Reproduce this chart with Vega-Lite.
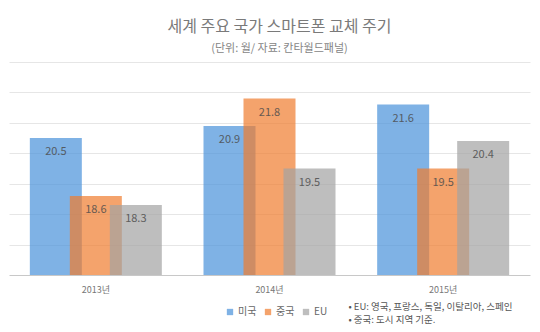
{
  "$schema": "https://vega.github.io/schema/vega-lite/v6.json",
  "width": 521,
  "height": 213,
  "autosize": {"type": "none"},
  "padding": {"left": 9, "top": 62, "right": 10, "bottom": 57},
  "background": "white",
  "config": {"font": "Noto Sans CJK KR", "view": {"stroke": null}},
  "title": {
    "text": "세계 주요 국가 스마트폰 교체 주기",
    "subtitle": "(단위: 월/ 자료: 칸타월드패널)",
    "fontSize": 16,
    "fontWeight": "normal",
    "color": "#7a7a7a",
    "subtitleFontSize": 11,
    "subtitleColor": "#858585",
    "anchor": "middle",
    "offset": 8,
    "subtitlePadding": 8,
    "dx": 10
  },
  "data": {
    "values": [
      {"year": "2013년", "country": "미국", "value": 20.5},
      {"year": "2013년", "country": "중국", "value": 18.6},
      {"year": "2013년", "country": "EU", "value": 18.3},
      {"year": "2014년", "country": "미국", "value": 20.9},
      {"year": "2014년", "country": "중국", "value": 21.8},
      {"year": "2014년", "country": "EU", "value": 19.5},
      {"year": "2015년", "country": "미국", "value": 21.6},
      {"year": "2015년", "country": "중국", "value": 19.5},
      {"year": "2015년", "country": "EU", "value": 20.4}
    ]
  },
  "encoding": {
    "x": {
      "field": "year",
      "type": "nominal",
      "scale": {"paddingInner": 0, "paddingOuter": 0},
      "axis": {
        "title": ["•  EU: 영국, 프랑스, 독일, 이탈리아, 스페인", "•  중국: 도시 지역 기준."],
        "titleX": 339,
        "titleY": 26,
        "titleAlign": "left",
        "titleAnchor": null,
        "titleBaseline": "top",
        "titleFontSize": 9.5,
        "titleFontWeight": "normal",
        "titleColor": "#555555",
        "titleLineHeight": 13,
        "labelAngle": 0,
        "labelColor": "#777777",
        "labelFontSize": 9,
        "labelPadding": 10,
        "ticks": false,
        "domainColor": "#c8c8c8",
        "grid": false
      }
    },
    "y": {
      "field": "value",
      "type": "quantitative",
      "scale": {"domain": [16, 23], "zero": false, "nice": false},
      "axis": {
        "title": null,
        "labels": false,
        "ticks": false,
        "domain": false,
        "grid": true,
        "gridColor": "#e6e6e6",
        "values": [17, 18, 19, 20, 21, 22, 23]
      }
    },
    "color": {
      "field": "country",
      "type": "nominal",
      "scale": {"domain": ["미국", "중국", "EU"], "range": ["#4892DA", "#EF7C2D", "#A2A2A2"]},
      "legend": {
        "orient": "none",
        "legendX": 216,
        "legendY": 245,
        "direction": "horizontal",
        "title": null,
        "symbolType": "square",
        "symbolSize": 40,
        "symbolOpacity": 0.7,
        "symbolStrokeWidth": 0,
        "labelFontSize": 10,
        "labelOffset": 3,
        "labelColor": "#666666",
        "columnPadding": 6
      }
    }
  },
  "layer": [
    {
      "transform": [{"filter": "datum.country === '미국'"}],
      "layer": [
        {"mark": {"type": "bar", "width": 52, "xOffset": -40, "opacity": 0.7}, "encoding": {"y2": {"datum": 16}}},
        {"mark": {"type": "text", "xOffset": -40, "dy": 14, "baseline": "middle", "fontSize": 11, "opacity": 0.85}, "encoding": {"text": {"field": "value", "format": ".1f"}, "color": {"value": "#4d4d4d"}}}
      ]
    },
    {
      "transform": [{"filter": "datum.country === '중국'"}],
      "layer": [
        {"mark": {"type": "bar", "width": 52, "xOffset": 0, "opacity": 0.7}, "encoding": {"y2": {"datum": 16}}},
        {"mark": {"type": "text", "xOffset": 0, "dy": 14, "baseline": "middle", "fontSize": 11, "opacity": 0.85}, "encoding": {"text": {"field": "value", "format": ".1f"}, "color": {"value": "#4d4d4d"}}}
      ]
    },
    {
      "transform": [{"filter": "datum.country === 'EU'"}],
      "layer": [
        {"mark": {"type": "bar", "width": 52, "xOffset": 40, "opacity": 0.7}, "encoding": {"y2": {"datum": 16}}},
        {"mark": {"type": "text", "xOffset": 40, "dy": 14, "baseline": "middle", "fontSize": 11, "opacity": 0.85}, "encoding": {"text": {"field": "value", "format": ".1f"}, "color": {"value": "#4d4d4d"}}}
      ]
    }
  ]
}
